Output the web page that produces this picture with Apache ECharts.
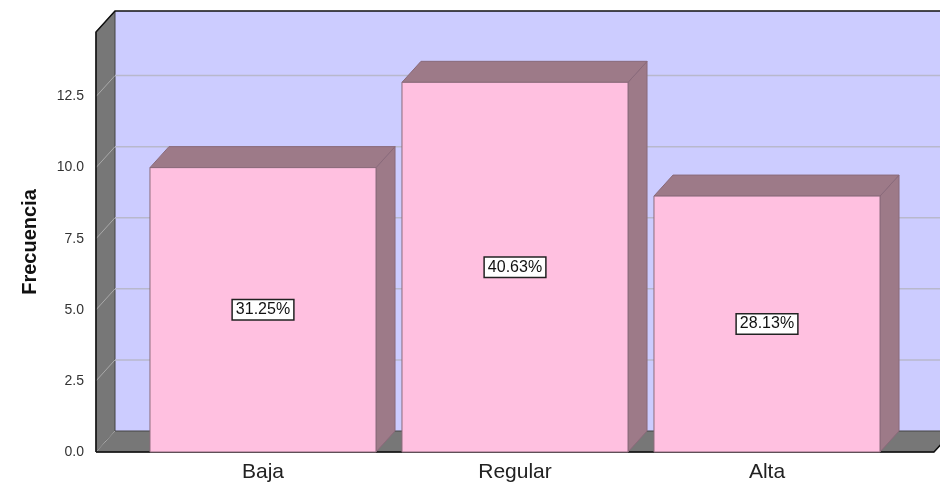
<!DOCTYPE html>
<html>
<head>
<meta charset="utf-8">
<title>Frecuencia</title>
<script src="https://cdn.jsdelivr.net/npm/echarts@6/dist/echarts.min.js"></script>
<style>
  html, body { margin: 0; padding: 0; background: #fff; }
  #chart { width: 940px; height: 483px; }
</style>
</head>
<body>
<div id="chart"></div>
<script>
const categories = ['Baja', 'Regular', 'Alta'];
const frecuencia = [10, 13, 9];
const yTicks = [0, 2.5, 5, 7.5, 10, 12.5];
const yMax = 14.77;

const DX = 19, DY = -21; // profundidad 3D
const FONT = '"Liberation Sans", Arial, sans-serif';
const total = frecuencia.reduce((a, b) => a + b, 0);

const chart = echarts.init(document.getElementById('chart'));

// paredes, piso y lineas de la cuadricula
const wallsItem = (params, api) => {
  const cs = params.coordSys;
  const x0 = cs.x, x1 = cs.x + cs.width;
  const yTop = cs.y, y0 = cs.y + cs.height;
  const children = [];
  children.push({ type: 'polygon', shape: { points: [[x0 + DX, yTop + DY], [x1 + DX, yTop + DY], [x1 + DX, y0 + DY], [x0 + DX, y0 + DY]] },
    style: { fill: '#ccccff' } });
  children.push({ type: 'polygon', shape: { points: [[x0, yTop], [x0 + DX, yTop + DY], [x0 + DX, y0 + DY], [x0, y0]] },
    style: { fill: '#777777', stroke: '#444', lineWidth: 1 } });
  children.push({ type: 'polygon', shape: { points: [[x0, y0], [x0 + DX, y0 + DY], [x1 + DX, y0 + DY], [x1, y0]] },
    style: { fill: '#777777', stroke: '#444', lineWidth: 1 } });
  yTicks.forEach(v => {
    const y = api.coord([0, v])[1];
    children.push({ type: 'line', shape: { x1: x0, y1: y, x2: x0 + DX, y2: y + DY },
      style: { stroke: '#a9a9a9', lineWidth: 1 } });
    if (v > 0) {
      children.push({ type: 'line', shape: { x1: x0 + DX, y1: y + DY, x2: x1 + DX, y2: y + DY },
        style: { stroke: '#b8b8cc', lineWidth: 1.5 } });
    }
  });
  children.push({ type: 'polyline', shape: { points: [[x0, y0], [x0, yTop], [x0 + DX, yTop + DY], [x1 + DX, yTop + DY]] },
    style: { stroke: '#111', lineWidth: 1.5, fill: null } });
  children.push({ type: 'polyline', shape: { points: [[x0, y0], [x1, y0], [x1 + DX, y0 + DY]] },
    style: { stroke: '#111', lineWidth: 1.5, fill: null } });
  return { type: 'group', children };
};

// barras 3D
const barsItem = (params, api) => {
  const i = api.value(0), v = api.value(1);
  const top = api.coord([i, v]);
  const base = api.coord([i, 0]);
  const w = api.size([1, 0])[0] * 0.897;
  const xa = top[0] - w / 2, xb = top[0] + w / 2;
  const yt = top[1], yb = base[1];
  const edge = { stroke: '#8a6a7a', lineWidth: 1 };
  const pct = (v / total * 100).toFixed(2) + '%';
  return { type: 'group', children: [
    { type: 'polygon', shape: { points: [[xb, yt], [xb + DX, yt + DY], [xb + DX, yb + DY], [xb, yb]] },
      style: Object.assign({ fill: '#9d7a88' }, edge) },
    { type: 'polygon', shape: { points: [[xa, yt], [xa + DX, yt + DY], [xb + DX, yt + DY], [xb, yt]] },
      style: Object.assign({ fill: '#9d7a88' }, edge) },
    { type: 'rect', shape: { x: xa, y: yt, width: w, height: yb - yt },
      style: Object.assign({ fill: '#ffc0e0' }, edge) },
    { type: 'text', x: top[0], y: (yt + yb) / 2,
      style: { text: pct, fill: '#111', font: '16px ' + FONT, align: 'center', verticalAlign: 'middle',
        backgroundColor: '#fff', borderColor: '#222', borderWidth: 1.5, padding: [2, 3, 1, 3] } }
  ]};
};

const option = {
  animation: false,
  backgroundColor: '#fff',
  grid: [
    { left: 96, top: 32, width: 838, height: 420 },
    { left: 137, top: 32, width: 756, height: 420 }
  ],
  xAxis: [
    { gridIndex: 0, type: 'value', min: 0, max: 1, show: false },
    {
      gridIndex: 1, type: 'category', data: categories,
      axisLine: { show: false }, axisTick: { show: false },
      axisLabel: { fontSize: 21, color: '#222', fontFamily: FONT, margin: 10 }
    }
  ],
  yAxis: [
    {
      gridIndex: 0, type: 'value', min: 0, max: yMax, interval: 2.5,
      name: 'Frecuencia', nameLocation: 'middle', nameGap: 56,
      nameTextStyle: { fontSize: 20, fontWeight: 'bold', color: '#111', fontFamily: FONT },
      axisLine: { show: false }, axisTick: { show: false }, splitLine: { show: false },
      axisLabel: { fontSize: 14, color: '#333', fontFamily: FONT, margin: 12, showMaxLabel: false,
        padding: [4, 0, 0, 0], formatter: v => v.toFixed(1) }
    },
    { gridIndex: 1, type: 'value', min: 0, max: yMax, show: false }
  ],
  series: [
    { type: 'custom', xAxisIndex: 0, yAxisIndex: 0, clip: false, z: 1, silent: true,
      renderItem: wallsItem, data: [[0, 0]] },
    { type: 'custom', xAxisIndex: 1, yAxisIndex: 1, clip: false, z: 2,
      renderItem: barsItem, data: frecuencia.map((v, i) => [i, v]) }
  ]
};

chart.setOption(option);
</script>
</body>
</html>
